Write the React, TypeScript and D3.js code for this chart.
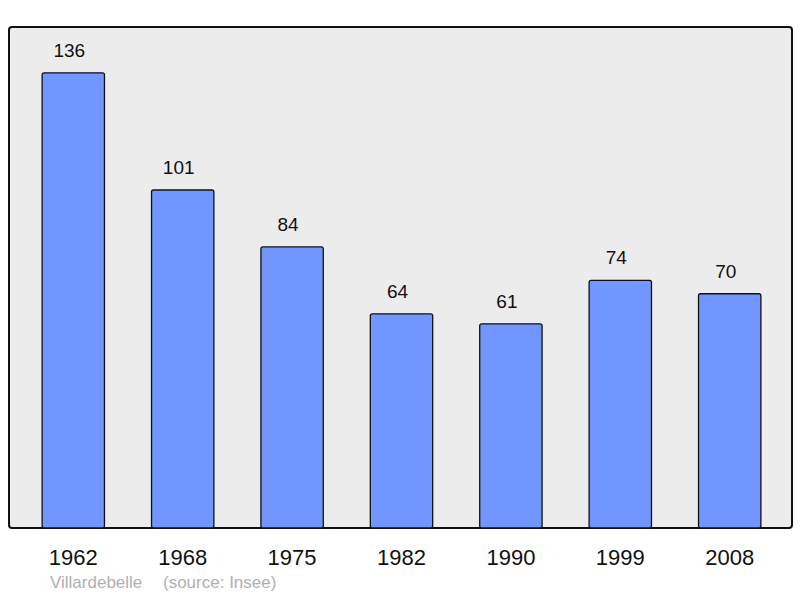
import React from "react";
import * as d3 from "d3";

const years = ["1962", "1968", "1975", "1982", "1990", "1999", "2008"];
const population = [136, 101, 84, 64, 61, 74, 70];
const commune = "Villardebelle";
const source = "(source: Insee)";

export default function App() {
  const W = 800, H = 598;
  const panel = { x: 9, y: 27, w: 783, h: 501 };
  const x = d3.scaleBand<string>().domain(years).range([18.6, 784.4]).paddingInner(0.43).paddingOuter(0.215);
  const y = d3.scaleLinear().domain([0, 149.7]).range([panel.y + panel.h, panel.y]);
  const font = "'Liberation Sans', Arial, sans-serif";
  return (
    <svg width={W} height={H} style={{ position: "absolute", left: 0, top: 0 }}>
      <rect x={panel.x} y={panel.y} width={panel.w} height={panel.h} rx={3} fill="#ececec" stroke="#111" strokeWidth={2} />
      {years.map((yr, i) => {
        const bx = x(yr)!;
        const by = y(population[i]);
        return (
          <g key={yr}>
            <rect x={bx} y={by} width={x.bandwidth()} height={y(0) - by} rx={2} fill="#7196ff" stroke="#111" strokeWidth={1.3} />
            <text x={bx + x.bandwidth() / 2 - 4} y={by - 16} textAnchor="middle" fontFamily={font} fontSize={19} fill="#111">{population[i]}</text>
            <text x={bx + x.bandwidth() / 2} y={565} textAnchor="middle" fontFamily={font} fontSize={22} fill="#111">{yr}</text>
          </g>
        );
      })}
      <text x={50} y={588} fontFamily={font} fontSize={17} fill="#b0b0b0">{commune}</text>
      <text x={163} y={588} fontFamily={font} fontSize={17} fill="#b0b0b0">{source}</text>
    </svg>
  );
}
